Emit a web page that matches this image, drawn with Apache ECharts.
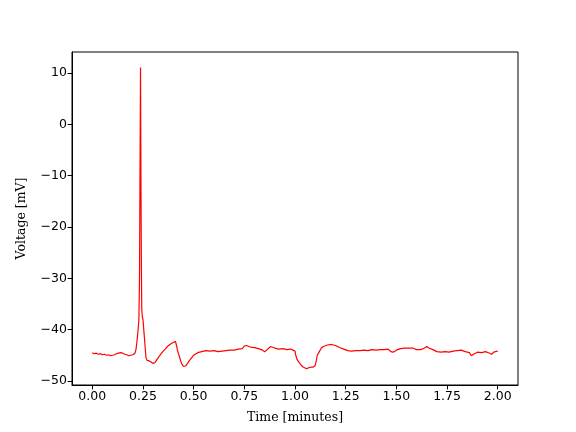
<!DOCTYPE html>
<html>
<head>
<meta charset="utf-8">
<script src="https://cdn.jsdelivr.net/npm/echarts@6/dist/echarts.min.js"></script>
<style>
  html, body { margin: 0; padding: 0; background: #fff; }
  #chart { width: 576px; height: 432px; }
</style>
</head>
<body>
<div id="chart"></div>
<script>
// time in minutes
var timeMin = [
  0.00, 0.01, 0.02, 0.03, 0.04, 0.05, 0.06, 0.07, 0.08, 0.09,
  0.10, 0.11, 0.12, 0.13, 0.14, 0.15, 0.16, 0.17, 0.18, 0.19,
  0.20, 0.21, 0.215, 0.22, 0.225, 0.23, 0.233, 0.236, 0.238, 0.240,
  0.242, 0.244, 0.247, 0.25, 0.255, 0.26, 0.265, 0.27, 0.28, 0.29,
  0.30, 0.31, 0.32, 0.33, 0.34, 0.35, 0.36, 0.37, 0.38, 0.39,
  0.40, 0.41, 0.415, 0.42, 0.43, 0.44, 0.45, 0.46, 0.47, 0.48,
  0.49, 0.50, 0.52, 0.54, 0.56, 0.58, 0.60, 0.62, 0.64, 0.66,
  0.68, 0.70, 0.72, 0.74, 0.75, 0.76, 0.78, 0.80, 0.82, 0.84,
  0.85, 0.86, 0.88, 0.90, 0.92, 0.94, 0.96, 0.98, 0.99, 1.00,
  1.005, 1.01, 1.02, 1.03, 1.04, 1.05, 1.06, 1.07, 1.08, 1.09,
  1.10, 1.105, 1.11, 1.12, 1.13, 1.14, 1.16, 1.18, 1.20, 1.22,
  1.24, 1.26, 1.28, 1.30, 1.32, 1.34, 1.36, 1.38, 1.40, 1.42,
  1.44, 1.46, 1.47, 1.48, 1.49, 1.50, 1.52, 1.54, 1.56, 1.58,
  1.60, 1.62, 1.64, 1.65, 1.66, 1.68, 1.70, 1.72, 1.74, 1.76,
  1.78, 1.80, 1.82, 1.84, 1.86, 1.87, 1.88, 1.90, 1.92, 1.94,
  1.96, 1.97, 1.98, 2.00
];
// voltage in mV
var voltage = [
  -44.5, -44.7, -44.6, -44.8, -44.7, -44.9, -44.8, -45.0, -44.9, -45.1,
  -45.0, -44.9, -44.7, -44.6, -44.5, -44.6, -44.8, -44.9, -45.1, -45.0,
  -44.9, -44.6, -44.0, -42.5, -40.5, -38.0, -30.0, -5.0, 11.1, -10.0,
  -26.0, -36.0, -37.5, -38.0, -40.5, -43.0, -45.5, -46.0, -46.1, -46.3,
  -46.6, -46.4, -45.8, -45.2, -44.7, -44.2, -43.8, -43.3, -43.0, -42.7,
  -42.5, -42.3, -43.0, -44.0, -45.3, -46.6, -47.2, -47.1, -46.6, -46.0,
  -45.5, -45.0, -44.5, -44.3, -44.1, -44.2, -44.1, -44.3, -44.2, -44.1,
  -44.0, -44.0, -43.8, -43.7, -43.2, -43.1, -43.4, -43.5, -43.7, -44.0,
  -44.3, -44.0, -43.3, -43.6, -43.8, -43.7, -43.9, -43.8, -44.0, -44.2,
  -45.2, -45.8, -46.4, -46.9, -47.3, -47.5, -47.6, -47.4, -47.3, -47.3,
  -47.0, -46.0, -45.0, -44.3, -43.6, -43.3, -43.0, -42.9, -43.1, -43.5,
  -43.8, -44.1, -44.2, -44.1, -44.1, -44.0, -44.1, -43.9, -44.0, -43.9,
  -43.9, -43.8, -44.2, -44.4, -44.3, -44.0, -43.7, -43.6, -43.6, -43.6,
  -43.9, -43.9, -43.6, -43.3, -43.6, -43.9, -44.3, -44.4, -44.3, -44.4,
  -44.2, -44.1, -44.0, -44.3, -44.5, -45.1, -44.8, -44.4, -44.5, -44.3,
  -44.6, -44.8, -44.4, -44.2
];
var xTicks = [0, 0.25, 0.5, 0.75, 1.0, 1.25, 1.5, 1.75, 2.0];
var yTicks = [-50, -40, -30, -20, -10, 0, 10];

var chart = echarts.init(document.getElementById('chart'));

var tickFont = { color: '#000', fontFamily: 'DejaVu Sans', fontSize: 12.5 };
var nameFont = { color: '#000', fontFamily: 'DejaVu Serif', fontSize: 12.5 };

var options = {
  animation: false,
  grid: {
    left: 72, right: 58, top: 52, bottom: 47,
    show: true, borderColor: '#000', borderWidth: 1
  },
  xAxis: {
    type: 'value',
    min: -0.1,
    max: 2.1,
    name: 'Time [minutes]',
    nameLocation: 'middle',
    nameGap: 26,
    nameTextStyle: nameFont,
    axisLine: { onZero: false, lineStyle: { color: '#000', width: 1 } },
    axisTick: { show: true, length: 4.4, lineStyle: { color: '#000' }, customValues: xTicks },
    axisLabel: Object.assign({
      margin: 5,
      customValues: xTicks,
      formatter: function (v) { return v.toFixed(2); }
    }, tickFont),
    splitLine: { show: false }
  },
  yAxis: {
    type: 'value',
    min: -50.8,
    max: 14.1,
    name: 'Voltage [mV]',
    nameLocation: 'middle',
    nameGap: 44,
    nameTextStyle: nameFont,
    axisLine: { onZero: false, lineStyle: { color: '#000', width: 1 } },
    axisTick: { show: true, length: 4.4, lineStyle: { color: '#000' }, customValues: yTicks },
    axisLabel: Object.assign({
      margin: 5,
      customValues: yTicks,
      formatter: function (v) { return v < 0 ? '\u2212' + Math.abs(v) : String(v); }
    }, tickFont),
    splitLine: { show: false }
  },
  series: [{
    type: 'line',
    showSymbol: false,
    data: timeMin.map(function (t, i) { return [t, voltage[i]]; }),
    lineStyle: { color: '#ff0000', width: 1.2 },
    itemStyle: { color: '#ff0000' }
  }]
};

chart.setOption(options);
</script>
</body>
</html>
